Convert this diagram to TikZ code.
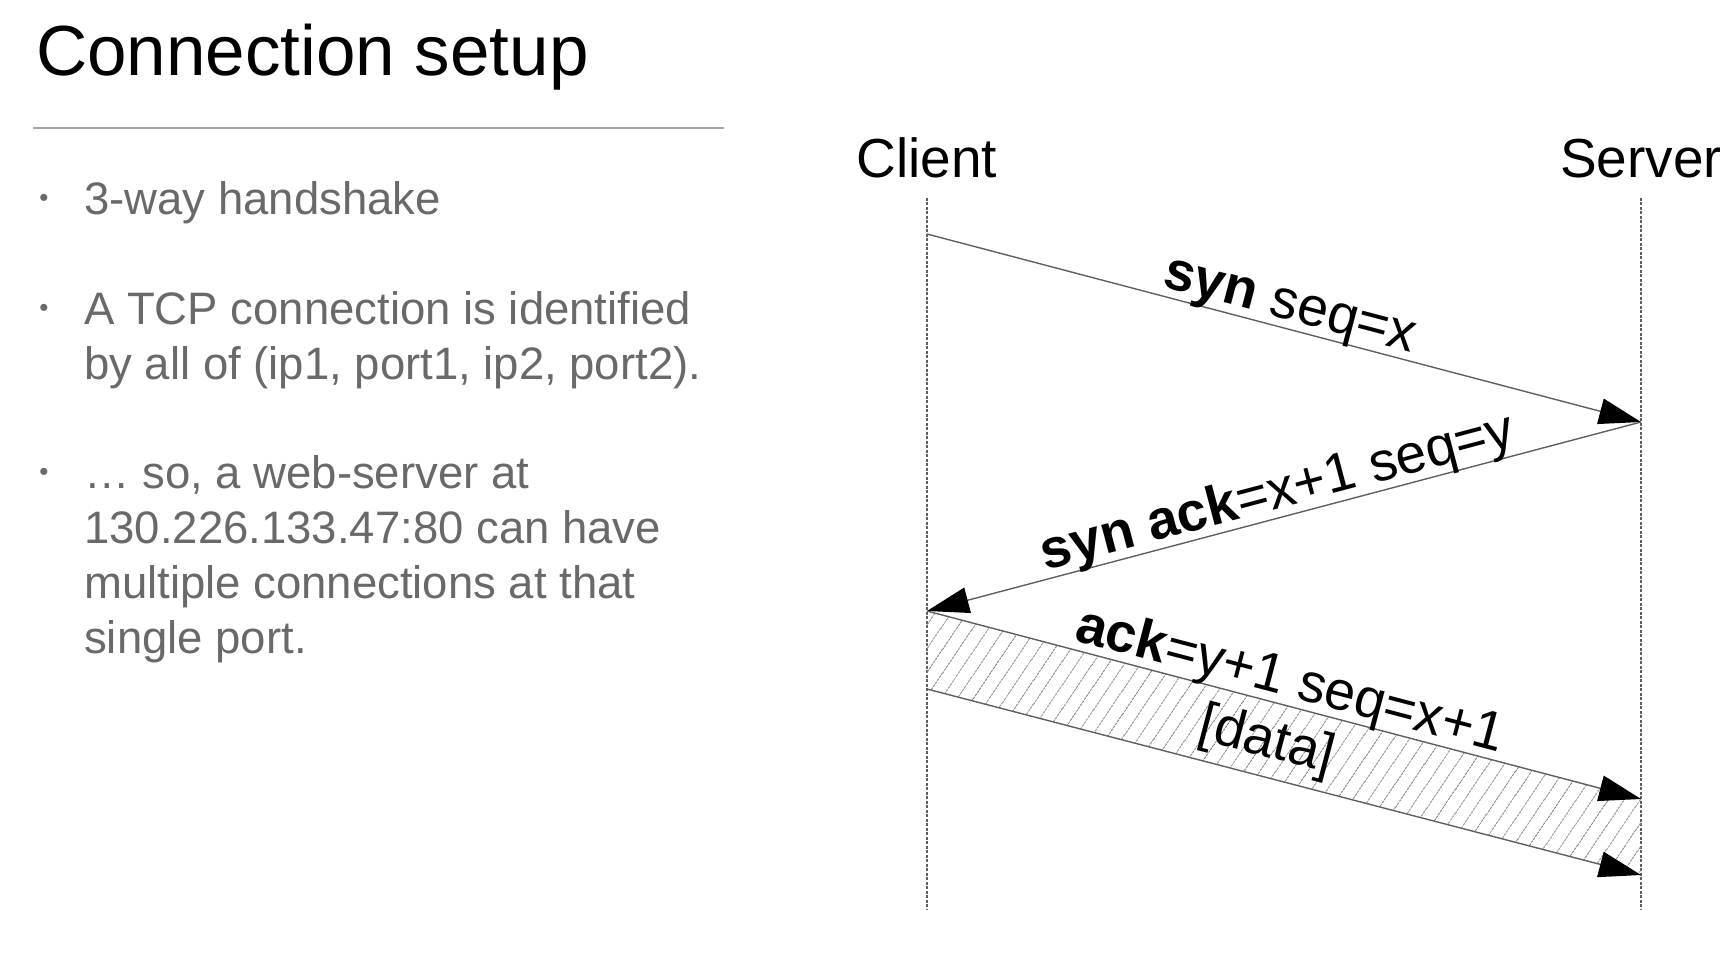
\documentclass[tikz,border=0pt]{standalone}
\usepackage{fontspec}
\setmainfont{Liberation Sans}
\usetikzlibrary{arrows.meta}
\usetikzlibrary{patterns.meta}
\usetikzlibrary{positioning}
\definecolor{txtgrey}{RGB}{105,105,105}
\definecolor{rulegrey}{RGB}{165,165,165}
\definecolor{msggrey}{RGB}{95,95,95}
\definecolor{hatchgrey}{RGB}{130,130,130}
\tikzset{msg/.style = {draw=msggrey, line width=1.4pt,
                       -{Triangle[length=42pt, width=26pt, black]}},
         lifeline/.style = {draw=msggrey, line width=1.2pt, dash pattern=on 3pt off 1.5pt},
         actor/.style = {anchor=base, inner sep=0pt, font=\fontsize{55}{60}\selectfont},
         lbl/.style = {midway, above=-3pt, sloped, inner sep=0pt, font=\fontsize{55}{60}\selectfont},
         bullet/.style = {anchor=base west, align=left, text=txtgrey, inner sep=0pt,
                          font=\fontsize{45.5}{55}\selectfont},
         dot/.style = {inner sep=0pt, text=txtgrey, font=\fontsize{26}{26}\selectfont}}

\begin{document}
\begin{tikzpicture}[x=1pt, y=-1pt]
    \useasboundingbox (0, 0) rectangle (1720, 954);

    % slide title and rule
    \node [anchor=base west, inner sep=0pt, font=\fontsize{71}{80}\selectfont] (title) at (36, 75) {Connection setup};
    \draw [rulegrey, line width=1.5pt] (33, 128) -- (724, 128);

    % bullets (a node's base is its last line)
    \node [dot] (dot1) at (44, 200) {•};
    \node [bullet] (b1) at (84, 214) {3-way handshake};
    \node [dot] (dot2) at (44, 310) {•};
    \node [bullet] (b2) at (84, 379) {A TCP connection is identified\\by all of (ip1, port1, ip2, port2).};
    \node [dot] (dot3) at (44, 474) {•};
    \node [bullet] (b3) at (84, 653) {… so, a web-server at\\130.226.133.47:80 can have\\multiple connections at that\\single port.};

    % client and server
    \node [actor] (client) at (927, 177) {Client};
    \node [actor] (server) at (1641, 177) {Server};
    \coordinate (client end) at (927, 910);
    \coordinate (server end) at (1641, 910);
    \draw [lifeline] (client.south) ++(0, 20) -- (client end);
    \draw [lifeline] (server.south) ++(0, 20) -- (server end);

    \coordinate (c syn) at (927, 234);
    \coordinate (s syn) at (1641, 422);
    \coordinate (c synack) at (927, 611);
    \coordinate (s data top) at (1641, 799);
    \coordinate (c data bot) at (927, 689);
    \coordinate (s data bot) at (1641, 875);

    % data segment
    \fill [pattern={Lines[angle=56, distance=13pt, line width=0.9pt]}, pattern color=hatchgrey]
        (c synack) -- (s data top) -- (s data bot) -- (c data bot) -- cycle;

    \draw [msg] (c syn) -- (s syn) node [lbl] {\textbf{syn} seq=x};
    \draw [msg] (s syn) -- (c synack) node [lbl] {\textbf{syn ack}=x+1 seq=y};
    \draw [msg] (c synack) -- (s data top) node [lbl] {\textbf{ack}=y+1 seq=x+1}
        node [pos=0.49, below=14pt, sloped, inner sep=0pt, font=\fontsize{55}{60}\selectfont] {[data]};
    \draw [msg] (c data bot) -- (s data bot);
\end{tikzpicture}
\end{document}
